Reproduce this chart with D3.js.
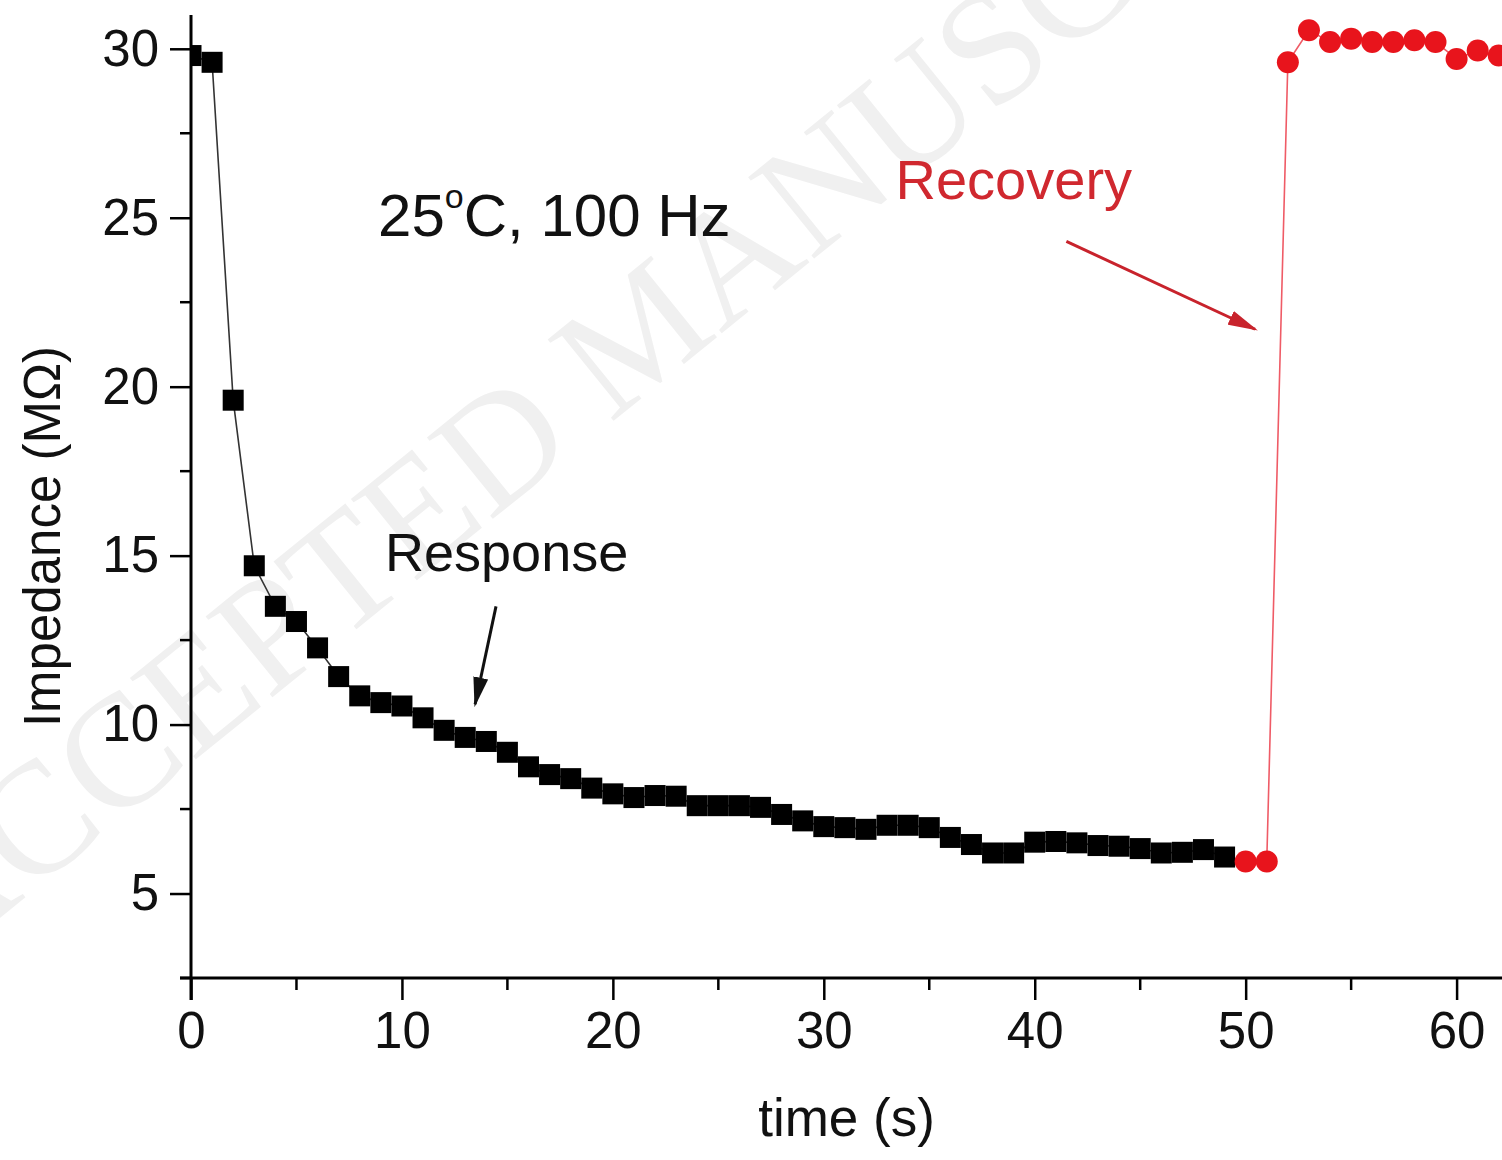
<!DOCTYPE html>
<html>
<head>
<meta charset="utf-8">
<script src="https://cdn.jsdelivr.net/npm/d3@7"></script>
<style>
  body { margin: 0; background: #fff; }
  text { font-family: "Liberation Sans", Arial, sans-serif; }
</style>
</head>
<body>
<div class="view"></div>
<script>
var width = 1502;
var height = 1160;

// response (black squares) and recovery (red circles)
var respTime = [0, 1, 2, 3, 4, 5, 6, 7, 8, 9, 10, 11, 12, 13, 14, 15, 16, 17, 18, 19,
    20, 21, 22, 23, 24, 25, 26, 27, 28, 29, 30, 31, 32, 33, 34, 35, 36, 37, 38, 39,
    40, 41, 42, 43, 44, 45, 46, 47, 48, 49];
var respZ = [29.8, 29.6, 19.6, 14.7, 13.5, 13.05, 12.27, 11.42, 10.85, 10.65, 10.55, 10.2, 9.83, 9.62, 9.5, 9.18, 8.75, 8.52, 8.4, 8.12,
    7.95, 7.84, 7.9, 7.88, 7.6, 7.6, 7.6, 7.55, 7.34, 7.15, 6.98, 6.95, 6.9, 7.02, 7.02, 6.95, 6.66, 6.45, 6.2, 6.2,
    6.52, 6.54, 6.5, 6.42, 6.4, 6.33, 6.2, 6.22, 6.3, 6.08];

var recTime = [50, 51, 52, 53, 54, 55, 56, 57, 58, 59, 60, 61, 62];
var recZ = [5.95, 5.95, 29.6, 30.55, 30.2, 30.3, 30.2, 30.2, 30.25, 30.2, 29.7, 29.95, 29.8];

var xTicks = [0, 10, 20, 30, 40, 50, 60];
var yTicks = [5, 10, 15, 20, 25, 30];

var margin = { top: 15, right: 0, bottom: 182, left: 191 };

var svg = d3.select(".view")
    .append("svg")
    .attr("width", width)
    .attr("height", height);

svg.append("rect").attr("width", width).attr("height", height).attr("fill", "#fff");

var x = d3.scaleLinear()
    .domain([0, 62.2])
    .range([margin.left, width + 1]);

var y = d3.scaleLinear()
    .domain([2.5, 31])
    .range([height - margin.bottom, margin.top]);

// faint watermark
svg.append("text")
    .attr("transform", "translate(640,330) rotate(-39)")
    .attr("text-anchor", "middle")
    .attr("dominant-baseline", "central")
    .style("font-family", "'Liberation Serif', serif")
    .attr("font-size", 160)
    .attr("fill", "#f0f0f0")
    .text("ACCEPTED MANUSCRIPT");

svg.append("clipPath")
    .attr("id", "plot-clip")
    .append("rect")
    .attr("x", x.range()[0])
    .attr("y", 0)
    .attr("width", width - x.range()[0])
    .attr("height", y.range()[0]);

var plot = svg.append("g").attr("clip-path", "url(#plot-clip)");

var resp = respTime.map(function (t, i) { return [t, respZ[i]]; });
var rec = recTime.map(function (t, i) { return [t, recZ[i]]; });

var line = d3.line()
    .x(function (d) { return x(d[0]); })
    .y(function (d) { return y(d[1]); });

plot.append("path")
    .datum(resp.concat([rec[0]]))
    .attr("fill", "none")
    .attr("stroke", "#333")
    .attr("stroke-width", 1.6)
    .attr("d", line);

plot.append("path")
    .datum(rec)
    .attr("fill", "none")
    .attr("stroke", "#ef5b66")
    .attr("stroke-width", 1.6)
    .attr("d", line);

var sq = 21;
plot.selectAll("rect.resp")
    .data(resp)
    .enter().append("rect")
    .attr("class", "resp")
    .attr("x", function (d) { return x(d[0]) - sq / 2; })
    .attr("y", function (d) { return y(d[1]) - sq / 2; })
    .attr("width", sq)
    .attr("height", sq)
    .attr("fill", "#000");

plot.selectAll("circle.rec")
    .data(rec)
    .enter().append("circle")
    .attr("class", "rec")
    .attr("cx", function (d) { return x(d[0]); })
    .attr("cy", function (d) { return y(d[1]); })
    .attr("r", 11)
    .attr("fill", "#e8141c");

// axes
var xAxis = d3.axisBottom(x)
    .tickValues(xTicks)
    .tickSize(22)
    .tickPadding(12)
    .tickFormat(d3.format("d"));

var yAxis = d3.axisLeft(y)
    .tickValues(yTicks)
    .tickSize(21)
    .tickPadding(11)
    .tickFormat(d3.format("d"));

var gx = svg.append("g")
    .attr("transform", "translate(0," + y.range()[0] + ")")
    .call(xAxis);

var gy = svg.append("g")
    .attr("transform", "translate(" + x.range()[0] + ",0)")
    .call(yAxis);

// minor ticks
gx.selectAll("line.minor")
    .data(d3.range(5, 62, 10))
    .enter().append("line")
    .attr("class", "minor")
    .attr("x1", function (d) { return x(d); })
    .attr("x2", function (d) { return x(d); })
    .attr("y1", 0)
    .attr("y2", 12);

gy.selectAll("line.minor")
    .data(d3.range(2.5, 31, 5))
    .enter().append("line")
    .attr("class", "minor")
    .attr("x1", 0)
    .attr("x2", -11)
    .attr("y1", function (d) { return y(d); })
    .attr("y2", function (d) { return y(d); });

[gx, gy].forEach(function (g) {
    g.select(".domain").attr("stroke", "#000").attr("stroke-width", 3);
    g.selectAll("line").attr("stroke", "#000").attr("stroke-width", 2.5);
    g.selectAll("text")
        .attr("fill", "#111")
        .style("font-family", "'Liberation Sans', Arial, sans-serif")
        .attr("font-size", 51);
});

// axis domain lines spanning the full edge
gx.select(".domain").attr("d", "M" + (x.range()[0] - 11) + ",0H" + width);
gy.select(".domain").attr("d", "M0," + y.range()[1] + "V" + (y.range()[0] + 22));

// axis titles
svg.append("text")
    .attr("transform", "translate(60," + ((y.range()[0] + y.range()[1]) / 2 + 40) + ") rotate(-90)")
    .attr("text-anchor", "middle")
    .attr("font-size", 51)
    .attr("fill", "#111")
    .text("Impedance (M\u03A9)");

svg.append("text")
    .attr("x", (x.range()[0] + width) / 2)
    .attr("y", 1136)
    .attr("text-anchor", "middle")
    .attr("font-size", 53)
    .attr("fill", "#111")
    .text("time (s)");

// annotations
var cond = svg.append("text")
    .attr("x", x(8.87))
    .attr("y", y(24.46))
    .attr("font-size", 60)
    .attr("fill", "#111");
cond.append("tspan").text("25");
cond.append("tspan").attr("font-size", 34).attr("dy", -28).text("o");
cond.append("tspan").attr("dy", 28).text("C, 100 Hz");

svg.append("text")
    .attr("x", x(9.2))
    .attr("y", y(14.54))
    .attr("font-size", 54)
    .attr("fill", "#111")
    .text("Response");

svg.append("text")
    .attr("x", x(33.4))
    .attr("y", y(25.56))
    .attr("font-size", 56)
    .attr("fill", "#d0282f")
    .text("Recovery");

var defs = svg.append("defs");
function marker(id, color) {
    defs.append("marker")
        .attr("id", id)
        .attr("viewBox", "0 0 20 10")
        .attr("refX", 18)
        .attr("refY", 5)
        .attr("markerUnits", "userSpaceOnUse")
        .attr("markerWidth", 30)
        .attr("markerHeight", 15)
        .attr("orient", "auto")
        .append("path")
        .attr("d", "M0,0L20,5L0,10Z")
        .attr("fill", color);
}
marker("arrow-black", "#111");
marker("arrow-red", "#c8232c");

svg.append("line")
    .attr("x1", x(14.46)).attr("y1", y(13.5))
    .attr("x2", x(13.47)).attr("y2", y(10.6))
    .attr("stroke", "#111")
    .attr("stroke-width", 3)
    .attr("marker-end", "url(#arrow-black)");

svg.append("line")
    .attr("x1", x(41.5)).attr("y1", y(24.3))
    .attr("x2", x(50.45)).attr("y2", y(21.7))
    .attr("stroke", "#c8232c")
    .attr("stroke-width", 3)
    .attr("marker-end", "url(#arrow-red)");
</script>
</body>
</html>
